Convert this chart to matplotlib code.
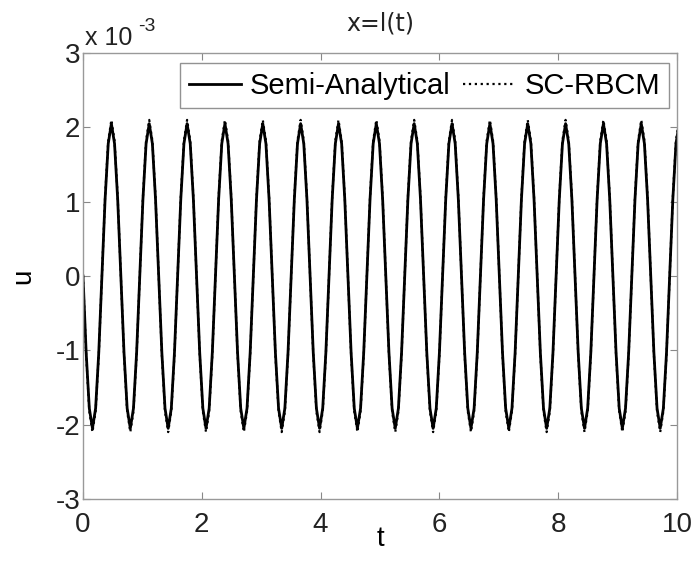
import numpy as np
import matplotlib
matplotlib.use('Agg')
import matplotlib.pyplot as plt

plt.rcParams['font.family'] = ['Liberation Sans', 'DejaVu Sans']
plt.rcParams['axes.unicode_minus'] = False

# the curve was read every ~1/12 of a period (period ~0.637 s)
dt = 0.0531

# one period of each series (x 1e-3)
semi_cycle = [0, -1.03, -1.78, -2.05, -1.78, -1.03, 0, 1.03, 1.78, 2.05, 1.78, 1.03]
rbcm_cycle = [0, -1.06, -1.82, -2.10, -1.82, -1.06, 0, 1.06, 1.82, 2.10, 1.82, 1.06]

# 15 full periods + the last part up to t = 10
u_semi = semi_cycle * 15 + semi_cycle[:10]
u_rbcm = rbcm_cycle * 15 + rbcm_cycle[:10]
t = np.arange(len(u_semi)) * dt

fig = plt.figure(figsize=(6.93, 5.65), dpi=100)
ax = fig.add_axes([83/693, 1 - 499/565, 594/693, 446/565])

ax.plot(t, u_semi, '-', color='black', lw=2.0, label='Semi-Analytical')
ax.plot(t, u_rbcm, ':', color='black', lw=1.6, label='SC-RBCM')

ax.set_xlim(0, 10)
ax.set_ylim(-3, 3)
ax.set_xticks([0, 2, 4, 6, 8, 10])
ax.set_yticks([-3, -2, -1, 0, 1, 2, 3])
ax.tick_params(direction='in', top=True, right=True, length=5, width=0.8,
               color='#888888', labelsize=20, labelcolor='#222222', pad=2)
ax.tick_params(axis='x', pad=9)
for s in ax.spines.values():
    s.set_color('#999999')
    s.set_linewidth(1.0)

ax.set_xlabel('t', fontsize=20, labelpad=-8)
ax.set_ylabel('u', fontsize=20, labelpad=14)
ax.set_title('x=l(t)', fontsize=17, family=['DejaVu Sans'], pad=16, color='#222222')

fig.text(85/693, 1 - 45/565, 'x 10', fontsize=18, va='baseline', color='#222222')
fig.text(138/693, 1 - 31/565, '-3', fontsize=14, va='baseline', color='#222222')

leg = ax.legend(ncol=2, loc='upper right', bbox_to_anchor=(0.9865, 0.9776),
                fontsize=21, frameon=True, fancybox=False, handlelength=1.8,
                handletextpad=0.3, columnspacing=0.43, borderpad=0.3,
                borderaxespad=0)
leg.get_frame().set_edgecolor('#777777')
leg.get_frame().set_linewidth(1.0)

fig.savefig('out.png', dpi=100)
